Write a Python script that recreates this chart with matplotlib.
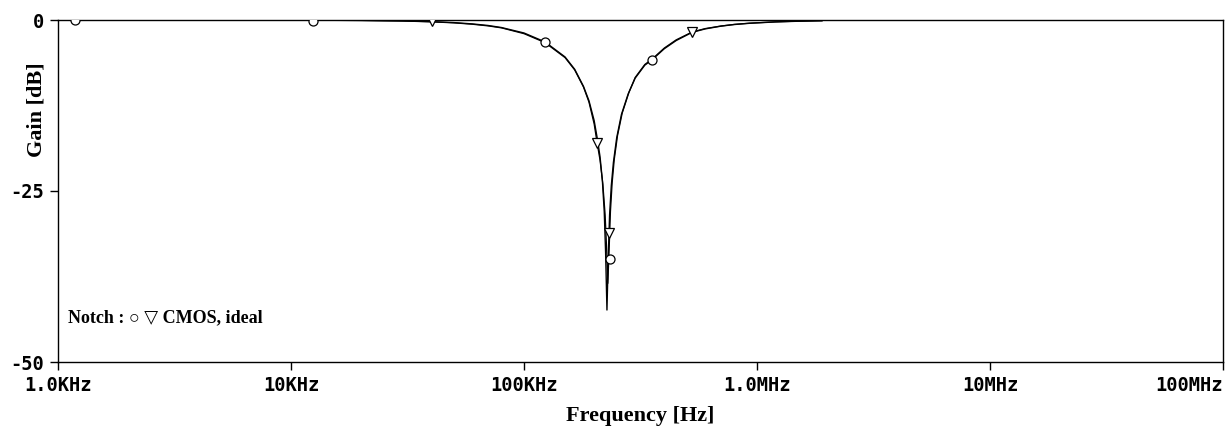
import matplotlib
matplotlib.use("Agg")
import matplotlib.pyplot as plt

# ---- data ----
freq_cmos = [1e3, 5e3, 1e4, 2e4, 3e4, 4e4, 5e4, 6e4, 7e4, 8e4, 1e5, 1.23e5, 1.5e5,
             1.65e5, 1.8e5, 1.9e5, 2.0e5, 2.06e5, 2.12e5, 2.17e5, 2.21e5, 2.24e5,
             2.27e5, 2.30e5, 2.33e5, 2.37e5, 2.42e5, 2.5e5, 2.62e5, 2.8e5, 3.0e5,
             3.3e5, 3.55e5, 4.0e5, 4.5e5, 5.27e5, 6.0e5, 7.0e5, 8.0e5, 9.3e5,
             1.2e6, 1.5e6, 1.9e6]
gain_cmos = [0.0, 0.0, -0.02, -0.06, -0.13, -0.24, -0.38, -0.57, -0.8, -1.1, -1.9, -3.2,
             -5.4, -7.2, -9.7, -11.8, -14.7, -17.2, -20.0, -23.5, -28.0, -34.0,
             -42.4, -34.5, -28.5, -24.2, -20.8, -17.2, -13.8, -10.8, -8.5,
             -6.6, -5.8, -4.2, -3.0, -1.8, -1.3, -0.9, -0.66, -0.48,
             -0.28, -0.18, -0.11]

freq_ideal = [1e3, 5e3, 1e4, 2e4, 3e4, 4e4, 5e4, 6e4, 7e4, 8e4, 1e5, 1.23e5, 1.5e5,
              1.65e5, 1.8e5, 1.9e5, 2.0e5, 2.06e5, 2.12e5, 2.18e5, 2.23e5, 2.26e5,
              2.29e5, 2.32e5, 2.35e5, 2.39e5, 2.44e5, 2.52e5, 2.64e5, 2.82e5, 3.0e5,
              3.3e5, 3.55e5, 4.0e5, 4.5e5, 5.27e5, 6.0e5, 7.0e5, 8.0e5, 9.3e5,
              1.2e6, 1.5e6, 1.9e6]
gain_ideal = [0.0, 0.0, -0.02, -0.07, -0.15, -0.27, -0.42, -0.62, -0.86, -1.15, -2.0, -3.3,
              -5.5, -7.3, -9.8, -12.0, -15.2, -18.0, -20.5, -24.0, -28.5, -33.0,
              -38.5, -33.5, -28.0, -23.8, -20.4, -16.9, -13.6, -10.6, -8.4,
              -6.5, -5.7, -4.1, -2.9, -1.75, -1.25, -0.88, -0.64, -0.46,
              -0.27, -0.17, -0.10]

marker_freq_cmos = [1.18e3, 1.24e4, 1.23e5, 2.34e5, 3.54e5]
marker_gain_cmos = [-0.05, -0.1, -3.2, -35.0, -5.8]
marker_freq_ideal = [4.03e4, 2.06e5, 2.32e5, 5.26e5]
marker_gain_ideal = [-0.2, -18.0, -31.2, -1.8]

xtick_vals = [1e3, 1e4, 1e5, 1e6, 1e7, 1e8]
xtick_labels = ["1.0KHz", "10KHz", "100KHz", "1.0MHz", "10MHz", "100MHz"]
ytick_vals = [0, -25, -50]
ytick_labels = ["0", "-25", "-50"]

# ---- figure ----
fig = plt.figure(figsize=(12.32, 4.37), dpi=100)
ax = fig.add_axes([58/1232, 1 - 362/437, (1223 - 58)/1232, (362 - 20)/437])

ax.plot(freq_cmos, gain_cmos, color="black", lw=1.0, zorder=3)
ax.plot(freq_ideal, gain_ideal, color="black", lw=0.9, zorder=3)
ax.plot(marker_freq_cmos, marker_gain_cmos, linestyle="none", marker="o",
        markersize=6.5, markerfacecolor="white", markeredgecolor="black",
        markeredgewidth=0.9, zorder=4)
ax.plot(marker_freq_ideal, marker_gain_ideal, linestyle="none", marker="v",
        markersize=7, markerfacecolor="white", markeredgecolor="black",
        markeredgewidth=0.9, zorder=4)

ax.set_xscale("log")
ax.set_xlim(1e3, 1e8)
ax.set_ylim(-50, 0)
ax.set_xticks(xtick_vals)
ax.set_xticklabels(xtick_labels)
ax.set_yticks(ytick_vals)
ax.set_yticklabels(ytick_labels)
ax.minorticks_off()
ax.tick_params(axis="both", direction="out", length=6, width=1.0, color="black",
               labelsize=13.5, pad=4)
for lab in ax.get_xticklabels() + ax.get_yticklabels():
    lab.set_fontfamily("DejaVu Sans Mono")
    lab.set_fontweight("bold")
ax.get_xticklabels()[-1].set_horizontalalignment("right")
for sp in ax.spines.values():
    sp.set_linewidth(1.0)
    sp.set_color("black")

ax.set_xlabel("Frequency [Hz]", fontfamily="Liberation Serif", fontweight="bold",
              fontsize=16, labelpad=8)
fig.text(36/1232, 1 - 110/437, "Gain [dB]", rotation=90, ha="center", va="center",
         fontfamily="Liberation Serif", fontweight="bold", fontsize=16)

ax.text(10/1165, (362 - 318)/342, "Notch : \u25cb \u25bd CMOS, ideal",
        transform=ax.transAxes, ha="left", va="center",
        family=["Liberation Serif", "DejaVu Sans"], fontweight="bold", fontsize=13)

fig.savefig("out.png", dpi=100, facecolor="white")
